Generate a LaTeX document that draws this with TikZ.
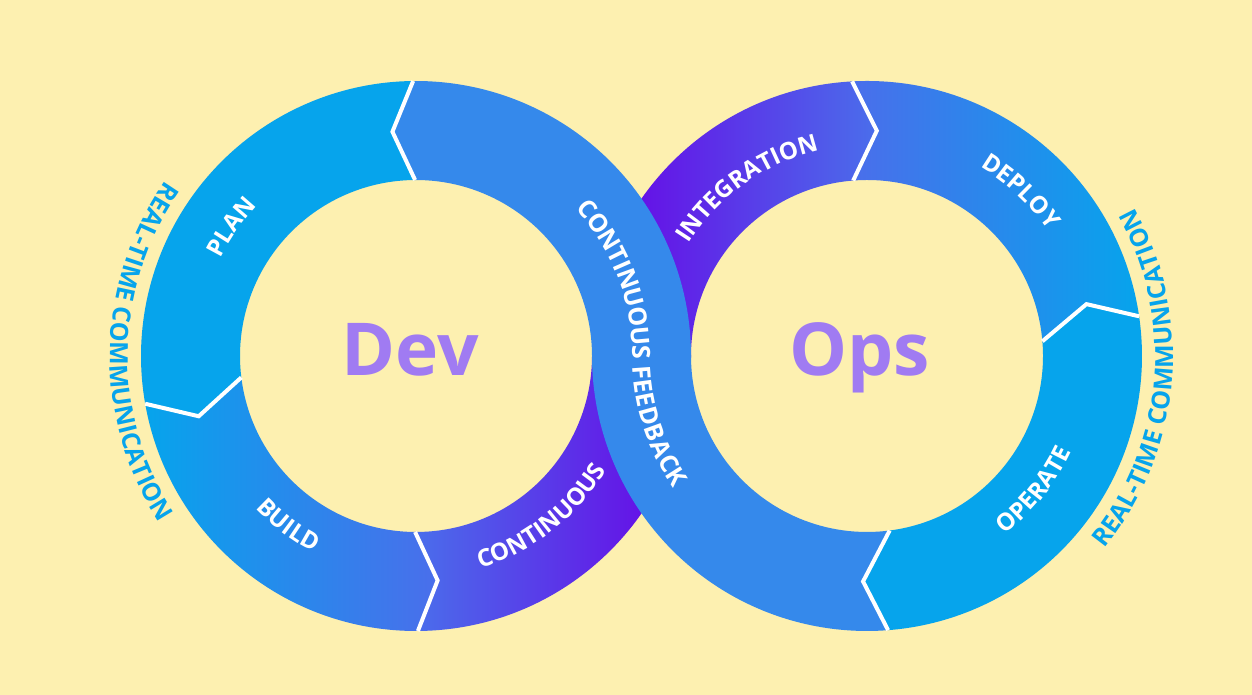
\documentclass[tikz,border=0pt]{standalone}
\usepackage{fontspec}
\setmainfont{Open Sans}
\usetikzlibrary{calc,decorations.text}

\definecolor{bgyellow}{HTML}{FDF0B0}
\definecolor{skyblue}{HTML}{06A4EC}
\definecolor{midblue}{HTML}{3589EB}
\definecolor{deepblue}{HTML}{4A6EEB}
\definecolor{vio}{HTML}{6A00E6}
\definecolor{lilac}{HTML}{A07BF2}

\newcommand\rin{176}
\newcommand\rout{275}
\newcommand\rmid{225.5}
\newcommand\lblfont{\fontsize{24}{24}\selectfont\bfseries}
\newcommand\rtcfont{\fontsize{25}{25}\selectfont\bfseries}

% ring part between two chevrons: centre, a_out, a_tip, a_in, b_out, b_tip, b_in
\newcommand\ringpart[7]{%
  ($(#1)+(#2:\rout)$) arc[start angle=#2, end angle=#5, radius=\rout]
  -- ($(#1)+(#6:\rmid)$) -- ($(#1)+(#7:\rin)$)
  arc[start angle=#7, end angle=#4, radius=\rin]
  -- ($(#1)+(#3:\rmid)$) -- cycle}

\tikzset{%
  sep/.style={draw=white, line width=4pt},
  lbl/.style={decorate, decoration={text along path, text align=center,
      text color=white, text={|\lblfont|#1}}},
  cfb/.style={decorate, decoration={text along path, text align=center,
      text color=white, raise=-8.8pt, text={|\rtcfont|#1}}},
  rtc/.style={decorate, decoration={text along path, text align=center,
      text color=skyblue, text={|\rtcfont|#1}}},
  title/.style={font=\fontsize{73}{73}\selectfont\bfseries, text=lilac,
      inner sep=0pt, anchor=base},
}

\begin{document}
\begin{tikzpicture}[x=1pt, y=1pt]
  \path[fill=bgyellow, use as bounding box] (0,0) rectangle (1252,695);
  \coordinate (L) at (416,339);
  \coordinate (R) at (867,339);

  % ring parts
  \fill[skyblue] \ringpart{L}{90.6}{96}{90.3}{190}{195.5}{187};
  \shade[left color=skyblue, middle color=skyblue, right color=deepblue]
    \ringpart{L}{190}{195.5}{187}{270.4}{275.5}{269.7};
  \shade[left color=deepblue, right color=vio]
    \ringpart{L}{270.4}{275.5}{269.7}{360}{360}{360};
  \shade[left color=vio, right color=deepblue]
    \ringpart{R}{93.1}{87.5}{94.5}{180}{180}{180};
  \shade[left color=deepblue, middle color=skyblue!70!deepblue, right color=skyblue]
    \ringpart{R}{8.3}{13.3}{4.8}{93.1}{87.5}{94.5};
  \fill[skyblue] \ringpart{R}{-85.6}{-91}{-82.6}{8.3}{13.3}{4.8};
  \fill[midblue] \ringpart{L}{0}{0}{0}{90.6}{96}{90.3}
    \ringpart{R}{180}{180}{180}{274.4}{269}{277.4};

  % chevrons
  \draw[sep] ($(L)+(90.6:\rout)$) -- ($(L)+(96:\rmid)$) -- ($(L)+(90.3:\rin)$);
  \draw[sep] ($(L)+(190:\rout)$) -- ($(L)+(195.5:\rmid)$) -- ($(L)+(187:\rin)$);
  \draw[sep] ($(L)+(270.4:\rout)$) -- ($(L)+(275.5:\rmid)$) -- ($(L)+(269.7:\rin)$);
  \draw[sep] ($(R)+(93.1:\rout)$) -- ($(R)+(87.5:\rmid)$) -- ($(R)+(94.5:\rin)$);
  \draw[sep] ($(R)+(8.3:\rout)$) -- ($(R)+(13.3:\rmid)$) -- ($(R)+(4.8:\rin)$);
  \draw[sep] ($(R)+(274.4:\rout)$) -- ($(R)+(269:\rmid)$) -- ($(R)+(277.4:\rin)$);

  % labels
  \path[lbl=PLAN] ($(L)+(175:218.5)$) arc[start angle=175, end angle=115, radius=218.5];
  \path[lbl=BUILD] ($(L)+(203:221.5)$) arc[start angle=203, end angle=263, radius=221.5];
  \path[lbl=CONTINUOUS] ($(L)+(278:222)$) arc[start angle=278, end angle=338, radius=222];
  \path[lbl=INTEGRATION] ($(R)+(160:211)$) arc[start angle=160, end angle=91, radius=211];
  \path[lbl=DEPLOY] ($(R)+(77:220.5)$) arc[start angle=77, end angle=17, radius=220.5];
  \path[lbl=OPERATE] ($(R)+(-68.8:225.5)$) arc[start angle=-68.8, end angle=-8.8, radius=225.5];
  \path[cfb=CONTINUOUS FEEDBACK]
    ($(L)+(64:\rmid)$) arc[start angle=64, end angle=0, radius=\rmid]
    arc[start angle=180, end angle=236, radius=\rmid];
  \path[rtc=REAL-TIME COMMUNICATION] ($(L)+(129:306)$) arc[start angle=129, end angle=229, radius=306];
  \path[rtc=REAL-TIME COMMUNICATION] ($(R)+(-55:306)$) arc[start angle=-55, end angle=45, radius=306];

  \node[title] (dev) at ($(L)+(-6,-20)$) {Dev};
  \node[title] (ops) at ($(R)+(-7.5,-20)$) {Ops};
\end{tikzpicture}
\end{document}
